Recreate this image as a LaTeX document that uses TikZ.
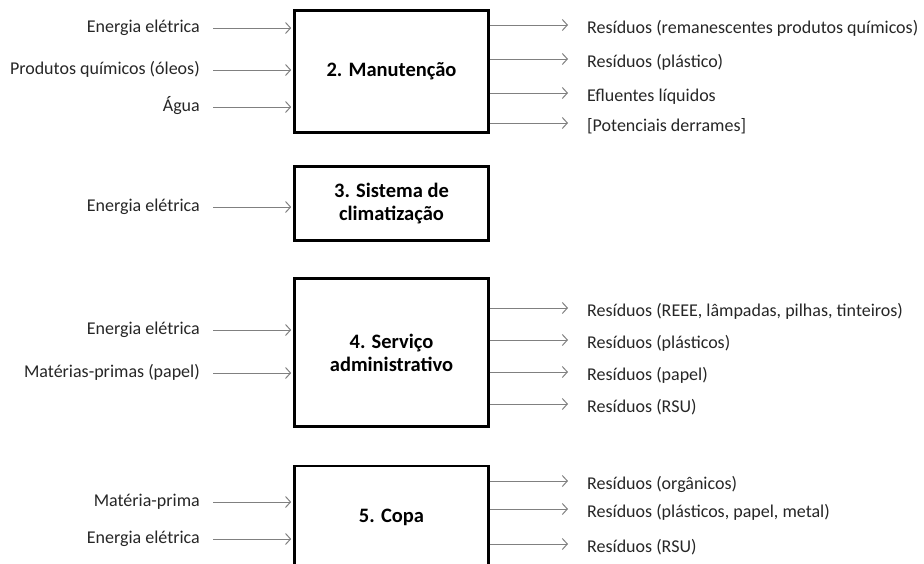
\documentclass[tikz,border=0pt]{standalone}
\usepackage{fontspec}
\setmainfont{Carlito}
\usetikzlibrary{arrows.meta}
\begin{document}
\begin{tikzpicture}[x=1pt,y=-1pt,
  proc/.style={draw, line width=2.6pt, minimum width=194pt, inner sep=0pt,
    align=center, font=\bfseries\fontsize{20.5}{23}\selectfont},
  inlbl/.style={anchor=east, inner sep=0pt, text height=1.05em, text depth=0.1em,
    text=black!85, font=\fontsize{18}{21}\selectfont},
  outlbl/.style={anchor=west, inner sep=0pt, text height=1.05em, text depth=0.1em,
    text=black!85, font=\fontsize{18}{21}\selectfont},
  flowin/.style={draw=gray, line width=1pt, -{Straight Barb[length=5pt,width=11pt]},
    shorten <=13pt, shorten >=2pt},
  flowout/.style={draw=gray, line width=1pt, -{Straight Barb[length=5pt,width=11pt]},
    shorten >=19pt}]

\useasboundingbox (0,0) rectangle (924,563);

% processos
\node[proc, minimum height=122pt] (M2) at (391.5,71.5) {2. Manutenção};
\node[proc, minimum height=74pt] (M3) at (391.5,203.5) {3. Sistema de\\climatização};
\node[proc, minimum height=148pt] (M4) at (391.5,352.5) {4. Serviço\\administrativo};
\node[proc, minimum height=102pt] (M5) at (391.5,517) {5. Copa};

% entradas
\node[inlbl] (I2a) at (200,28) {Energia elétrica};
\node[inlbl] (I2b) at (200,70) {Produtos químicos (óleos)};
\node[inlbl] (I2c) at (200,107) {Água};
\node[inlbl] (I3a) at (200,207) {Energia elétrica};
\node[inlbl] (I4a) at (200,330) {Energia elétrica};
\node[inlbl] (I4b) at (200,373) {Matérias-primas (papel)};
\node[inlbl] (I5a) at (200,502) {Matéria-prima};
\node[inlbl] (I5b) at (200,539) {Energia elétrica};

\draw[flowin] (I2a.east) -- (I2a -| M2.west);
\draw[flowin] (I2b.east) -- (I2b -| M2.west);
\draw[flowin] (I2c.east) -- (I2c -| M2.west);
\draw[flowin] (I3a.east) -- (I3a -| M3.west);
\draw[flowin] (I4a.east) -- (I4a -| M4.west);
\draw[flowin] (I4b.east) -- (I4b -| M4.west);
\draw[flowin] (I5a.east) -- (I5a -| M5.west);
\draw[flowin] (I5b.east) -- (I5b -| M5.west);

% saidas
\node[outlbl] (O2a) at (587,29) {Resíduos (remanescentes produtos químicos)};
\node[outlbl] (O2b) at (587,63) {Resíduos (plástico)};
\node[outlbl] (O2c) at (587,97) {Efluentes líquidos};
\node[outlbl] (O2d) at (587,127) {[Potenciais derrames]};
\node[outlbl] (O4a) at (587,312) {Resíduos (REEE, lâmpadas, pilhas, tinteiros)};
\node[outlbl] (O4b) at (587,344) {Resíduos (plásticos)};
\node[outlbl] (O4c) at (587,376) {Resíduos (papel)};
\node[outlbl] (O4d) at (587,408) {Resíduos (RSU)};
\node[outlbl] (O5a) at (587,485) {Resíduos (orgânicos)};
\node[outlbl] (O5b) at (587,513) {Resíduos (plásticos, papel, metal)};
\node[outlbl] (O5c) at (587,548) {Resíduos (RSU)};

\foreach \o/\m in {O2a/M2,O2b/M2,O2c/M2,O2d/M2,O4a/M4,O4b/M4,O4c/M4,O4d/M4,O5a/M5,O5b/M5,O5c/M5}
  \draw[flowout] ([yshift=4pt]\o.west -| \m.east) -- ([yshift=4pt]\o.west);

\end{tikzpicture}
\end{document}
